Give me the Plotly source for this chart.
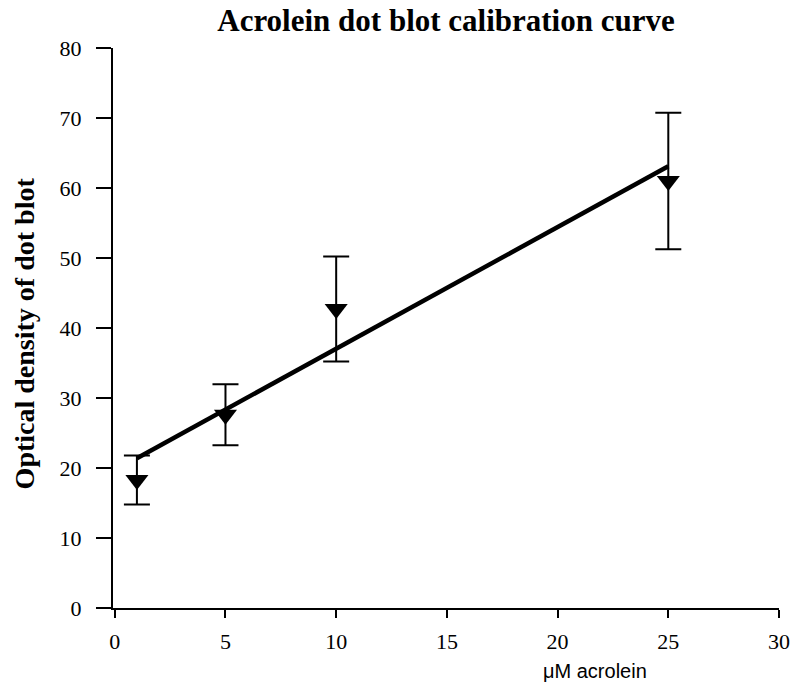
import plotly.graph_objects as go

# Data
conc = [1, 5, 10, 25]                 # µM acrolein
od_mean = [18.3, 27.6, 42.7, 61.0]     # optical density
od_err = [3.5, 4.35, 7.5, 9.75]        # error bar half-lengths

fit_x = [1, 25]
fit_y = [21.4, 63.1]

x_ticks = [0, 5, 10, 15, 20, 25, 30]
y_ticks = [0, 10, 20, 30, 40, 50, 60, 70, 80]

W, H = 802, 685
L, R, T, B = 113, 20, 48, 77

serif = "Liberation Serif, Times New Roman, serif"

fig = go.Figure()

fig.add_trace(go.Scatter(
    x=fit_x, y=fit_y, mode="lines",
    line=dict(color="black", width=4.5),
    showlegend=False, hoverinfo="skip",
))

fig.add_trace(go.Scatter(
    x=conc, y=od_mean, mode="markers",
    marker=dict(symbol="triangle-down", size=20, color="black"),
    error_y=dict(type="data", array=od_err, symmetric=True,
                 color="black", thickness=2, width=13),
    showlegend=False,
))

fig.update_layout(
    width=W, height=H,
    margin=dict(l=L, r=R, t=T, b=B),
    paper_bgcolor="white", plot_bgcolor="white",
    font=dict(family=serif, color="black", size=22),
    title=dict(
        text="<b>Acrolein dot blot calibration curve</b>",
        x=0.5, xref="paper", xanchor="center",
        y=1 - 20 / H, yref="container", yanchor="middle",
        font=dict(family=serif, size=31, color="black"),
    ),
    xaxis=dict(
        range=[-0.08, 30], tickvals=x_ticks, ticktext=[str(v) for v in x_ticks],
        showline=True, linecolor="black", linewidth=2,
        ticks="outside", ticklen=8, tickwidth=2, tickcolor="black",
        showgrid=False, zeroline=False,
        tickfont=dict(family=serif, size=22, color="black"),
        ticklabelstandoff=5,
    ),
    yaxis=dict(
        range=[0, 80], tickvals=y_ticks, ticktext=[str(v) for v in y_ticks],
        showline=True, linecolor="black", linewidth=2,
        ticks="outside", ticklen=15, tickwidth=2, tickcolor="black",
        showgrid=False, zeroline=False,
        tickfont=dict(family=serif, size=22, color="black"),
        ticklabelstandoff=10,
    ),
    annotations=[
        dict(
            text="<b>Optical density of dot blot</b>",
            xref="paper", yref="paper",
            x=(24 - L) / (W - L - R), y=(H - B - 333) / (H - T - B),
            xanchor="center", yanchor="middle", textangle=-90,
            showarrow=False,
            font=dict(family=serif, size=28, color="black"),
        ),
        dict(
            text="\u03bcM acrolein",
            xref="paper", yref="paper",
            x=(597 - L) / (W - L - R), y=-(671 - (H - B)) / (H - T - B),
            xanchor="center", yanchor="middle",
            showarrow=False,
            font=dict(family="Liberation Sans, Arial, sans-serif", size=20, color="black"),
        ),
    ],
)

fig.write_html("out.html")
